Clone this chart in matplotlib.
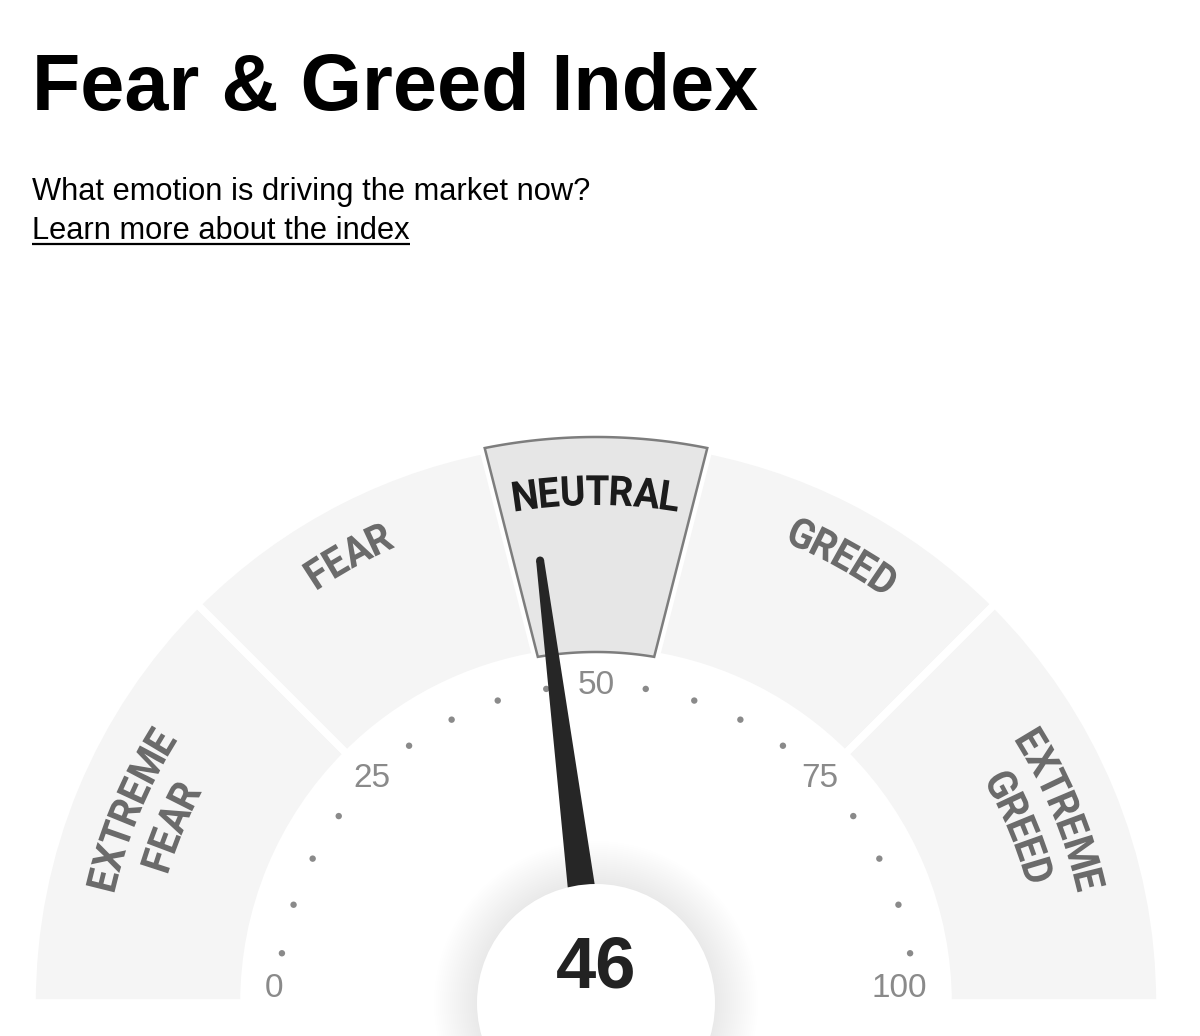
import numpy as np
import matplotlib.pyplot as plt
from matplotlib.patches import Wedge, Circle, Polygon, PathPatch
from matplotlib.font_manager import FontProperties
from matplotlib.textpath import TextPath
from matplotlib.transforms import Affine2D

# texts
title = "Fear & Greed Index"
subtitle = "What emotion is driving the market now?"
link_text = "Learn more about the index"

# gauge data
zone_labels = [["EXTREME", "FEAR"], ["FEAR"], ["NEUTRAL"], ["GREED"], ["EXTREME", "GREED"]]
zone_bounds = [0, 25, 45, 55, 75, 100]
index_value = 46
tick_values = [0, 25, 50, 75, 100]
dot_values = [5, 10, 15, 20, 30, 35, 40, 45, 55, 60, 65, 70, 80, 85, 90, 95]

W, H = 1200, 1036
fig = plt.figure(figsize=(W / 100, H / 100), dpi=100)
ax = fig.add_axes([0, 0, 1, 1])
ax.set_xlim(0, W)
ax.set_ylim(0, H)
ax.axis('off')

cx, cy = 596, 33          # gauge centre (pixels, y up)
r_in, r_out = 352, 564

band_col = '#f5f5f5'
active_fill = '#e6e6e6'
active_edge = '#7d7d7d'
label_col = '#6b6b6b'
active_label_col = '#1c1c1c'
tick_col = '#8a8a8a'
needle_col = '#262626'


def ang(v):
    return 180 - v * 1.8


def pt(v, r):
    a = np.radians(ang(v))
    return cx + r * np.cos(a), cy + r * np.sin(a)


active = [i for i in range(len(zone_labels))
          if zone_bounds[i] <= index_value < zone_bounds[i + 1]][0]

# header
ax.text(32, 926, title, fontsize=57, fontweight='bold', family='Liberation Sans',
        va='baseline', ha='left', color='black')
ax.text(32, 836, subtitle, fontsize=22.2, family='Liberation Sans',
        va='baseline', ha='left', color='black')
t = ax.text(32, 797, link_text, fontsize=22.2, family='Liberation Sans',
            va='baseline', ha='left', color='black')
renderer = fig.canvas.get_renderer()
bb = t.get_window_extent(renderer)
ax.plot([32, 32 + bb.width], [792, 792], color='black', lw=1.6, solid_capstyle='butt')

# zones
for i in range(len(zone_labels)):
    lo, hi = zone_bounds[i], zone_bounds[i + 1]
    if i == active:
        continue
    ax.add_patch(Wedge((cx, cy), r_out, ang(hi), ang(lo), width=r_out - r_in,
                       facecolor=band_col, edgecolor='white', lw=5.5))

# highlighted zone, popped out a little
lo, hi = zone_bounds[active], zone_bounds[active + 1]
outer = np.linspace(lo - 1.3, hi + 1.3, 60)
inner = np.linspace(hi + 0.3, lo - 0.3, 60)
pts = [pt(v, r_out + 2) for v in outer] + [pt(v, r_in - 1) for v in inner]
ax.add_patch(Polygon(pts, closed=True, facecolor='white', edgecolor='white', lw=8, zorder=3))
ax.add_patch(Polygon(pts, closed=True, facecolor=active_fill, edgecolor=active_edge,
                     lw=1.8, zorder=4))

# curved zone labels (condensed bold letters)
fp = FontProperties(family='Roboto', weight='bold', size=30)
px = 30 / 72 * 100
sx = 0.93


def text_w(s):
    if not s:
        return 0.0
    return renderer.get_text_width_height_descent(s, fp, ismath=False)[0]


def arc_text(s, theta, r_mid, color):
    total = text_w(s) * sx
    r_base = r_mid - 0.36 * px
    for k, ch in enumerate(s):
        off = (text_w(s[:k + 1]) - text_w(ch) / 2) * sx - total / 2
        a = np.radians(theta) - off / r_mid
        tp = TextPath((0, 0), ch, size=px, prop=fp)
        ext = tp.get_extents()
        tr = (Affine2D().translate(-(ext.x0 + ext.x1) / 2, 0).scale(sx, 1)
              .rotate(a - np.pi / 2)
              .translate(cx + r_base * np.cos(a), cy + r_base * np.sin(a)))
        ax.add_patch(PathPatch(tr.transform_path(tp), facecolor=color,
                               edgecolor='none', zorder=6))


label_nudge = [0, 1.9, 0, -1.9, 0]
for i, lines in enumerate(zone_labels):
    mid = ang((zone_bounds[i] + zone_bounds[i + 1]) / 2) + label_nudge[i]
    col = active_label_col if i == active else label_col
    if len(lines) == 1:
        arc_text(lines[0], mid, 513, col)
    else:
        arc_text(lines[0], mid, 509, col)
        arc_text(lines[1], mid, 462, col)

# dots and tick labels
for v in dot_values:
    x, y = pt(v, 318)
    ax.add_patch(Circle((x, y), 3.2, facecolor=tick_col, edgecolor='none', zorder=5))
for v in tick_values:
    if v == tick_values[0]:
        ax.text(cx - 331, cy + 6, str(v), fontsize=24, color=tick_col, family='Liberation Sans',
                ha='left', va='baseline', zorder=5)
    elif v == tick_values[-1]:
        ax.text(cx + 331, cy + 6, str(v), fontsize=24, color=tick_col, family='Liberation Sans',
                ha='right', va='baseline', zorder=5)
    else:
        x, y = pt(v, 317)
        ax.text(x, y, str(v), fontsize=24, color=tick_col, family='Liberation Sans',
                ha='center', va='center', zorder=5)

# soft shadow around the hub
for k in range(22):
    ax.add_patch(Circle((cx, cy), 120 + k * 2.0, facecolor='black', edgecolor='none',
                        alpha=0.0022, zorder=6))

# needle
a = np.radians(ang(index_value))
ux, uy = np.cos(a), np.sin(a)
nx, ny = -uy, ux
r_tip, w_base, w_tip = 446, 34, 8
needle = [(cx + nx * w_base / 2, cy + ny * w_base / 2),
          (cx + ux * r_tip + nx * w_tip / 2, cy + uy * r_tip + ny * w_tip / 2),
          (cx + ux * r_tip - nx * w_tip / 2, cy + uy * r_tip - ny * w_tip / 2),
          (cx - nx * w_base / 2, cy - ny * w_base / 2)]
ax.add_patch(Polygon(needle, closed=True, facecolor=needle_col, edgecolor='none', zorder=7))
ax.add_patch(Circle((cx + ux * r_tip, cy + uy * r_tip), w_tip / 2, facecolor=needle_col,
                    edgecolor='none', zorder=7))

# hub
ax.add_patch(Circle((cx, cy), 119, facecolor='white', edgecolor='none', zorder=8))
ax.text(cx, 68, str(index_value), fontsize=52, fontweight='bold', color='#222222',
        family='Liberation Sans', ha='center', va='center', zorder=9)

fig.savefig('out.png', dpi=100, facecolor='white')
